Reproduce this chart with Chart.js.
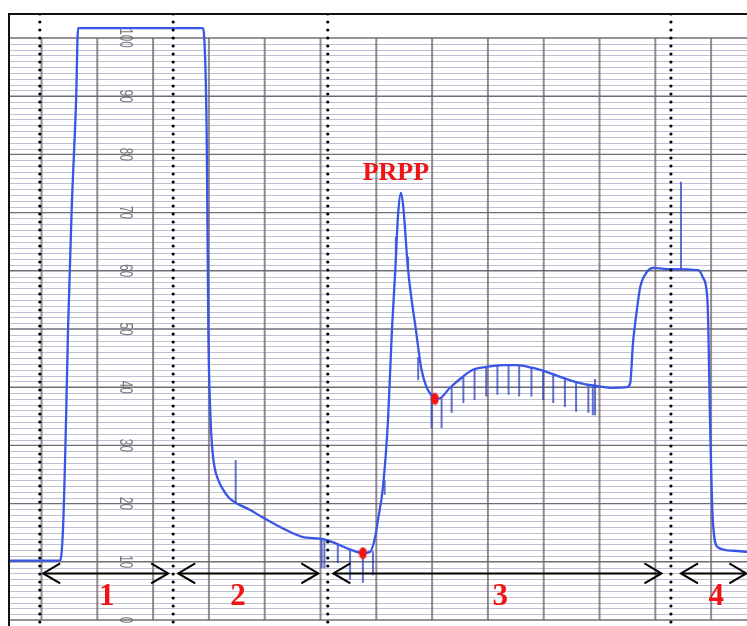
<!DOCTYPE html>
<html>
<head>
<meta charset="utf-8">
<script src="https://cdn.jsdelivr.net/npm/chart.js@4/dist/chart.umd.min.js"></script>
<style>
  html, body { margin: 0; padding: 0; background: #ffffff; }
  canvas { display: block; }
</style>
</head>
<body>
<canvas id="c" width="747" height="626"></canvas>
<script>
// Recorder trace: time in chart divisions, signal in % of full scale
const traceT = [-0.6, 0.33, 0.385, 0.44, 0.475, 0.54, 0.62, 0.655, 2.89, 2.91, 2.96, 2.99, 3.03, 3.06, 3.10, 3.17, 3.26, 3.36, 3.47, 3.74, 3.95, 4.31, 4.67, 5.05, 5.26, 5.56, 5.76, 5.89, 5.98, 6.03, 6.12, 6.21, 6.28, 6.34, 6.39, 6.44, 6.48, 6.57, 6.71, 6.81, 6.90, 6.96, 7.05, 7.14, 7.32, 7.55, 7.73, 7.98, 8.27, 8.52, 8.81, 9.06, 9.35, 9.65, 9.955, 10.19, 10.49, 10.55, 10.60, 10.67, 10.73, 10.85, 10.96, 11.21, 11.77, 11.85, 11.93, 11.95, 11.98, 12.03, 12.12, 12.39, 12.66];
const traceV = [10.2, 10.2, 15.5, 34.4, 49.8, 70.4, 89.3, 101.7, 101.7, 100.9, 83.7, 49.8, 34.4, 29.5, 26.3, 24.0, 22.3, 21.0, 20.2, 18.9, 17.7, 15.8, 14.3, 13.9, 13.2, 12.0, 11.5, 11.7, 14.3, 17.2, 22.9, 34.4, 49.8, 60.1, 69.6, 73.4, 71.3, 60.1, 49.8, 43.0, 40.0, 39.0, 38.0, 38.1, 39.9, 41.8, 43.0, 43.5, 43.8, 43.8, 43.3, 42.6, 41.6, 40.7, 40.2, 39.9, 40.0, 40.7, 47.6, 53.3, 57.2, 59.8, 60.5, 60.3, 60.1, 58.9, 55.5, 50.3, 34.4, 17.2, 12.5, 11.9, 11.7];

// Fraction-collector event marks (vertical strokes)
const markT      = [3.48, 5.02, 5.07, 5.31, 5.53, 5.76, 5.94, 6.15, 6.35, 6.57, 6.75, 6.99, 7.17, 7.35, 7.56, 7.76, 7.97, 8.17, 8.37, 8.56, 8.78, 8.99, 9.17, 9.38, 9.58, 9.80, 9.88, 9.92, 11.46];
const markTop    = [27.5, 13.9, 13.9, 13.1, 12.2, 11.5, 11.8, 24.0, 65.8, 62.4, 45.2, 39.0, 38.1, 39.9, 41.8, 43.0, 43.5, 43.8, 43.8, 43.8, 43.3, 42.8, 42.4, 41.5, 40.9, 40.4, 40.3, 41.4, 75.3];
const markBottom = [20.2, 8.9, 8.9, 9.8, 6.9, 6.4, 7.7, 21.5, 63.1, 60.7, 41.2, 33.0, 33.0, 35.6, 37.3, 37.8, 38.4, 38.7, 38.7, 38.4, 38.4, 37.8, 37.3, 36.6, 35.8, 35.6, 35.2, 35.2, 60.3];

// Highlighted points on the trace
const dotT = [5.76, 7.05];
const dotV = [11.5, 38.0];

// Fraction boundaries and ranges
const dividerT = [-0.03, 2.36, 5.13, 11.28];
const rangeStart = [0.03, 2.45, 5.23, 11.46];
const rangeEnd = [2.27, 4.96, 11.11, 12.63];
const rangeLabels = ['1', '2', '3', '4'];
const rangeLabelT = [1.17, 3.52, 8.22, 12.09];
const rangeArrowV = 8.0;
const rangeLabelV = 4.3;

// Peak annotation
const peakLabel = 'PRPP';
const peakLabelT = 6.35;
const peakLabelV = 76.9;

// Chart paper: printed scale and ruling
const paperScale = [0, 10, 20, 30, 40, 50, 60, 70, 80, 90, 100];
const paperScaleT = 1.5;
const paperColumnsT = [0, 1, 2, 3, 4, 5, 6, 7, 8, 9, 10, 11, 12];

const X_MIN = -0.5824, X_MAX = 12.643;
const Y_MIN = -1.03, Y_MAX = 104.12;

function pts(xs, ys) { return xs.map((x, i) => ({ x: x, y: ys[i] })); }

const markData = [];
markT.forEach((t, i) => {
  markData.push({ x: t, y: markTop[i] }, { x: t, y: markBottom[i] }, { x: t, y: null });
});

const dividerData = [];
dividerT.forEach(t => {
  dividerData.push({ x: t, y: Y_MAX }, { x: t, y: Y_MIN }, { x: t, y: null });
});

// Red elliptical marker
const dotImg = document.createElement('canvas');
dotImg.width = 9; dotImg.height = 13;
(function () {
  const g = dotImg.getContext('2d');
  g.fillStyle = '#f01414';
  g.beginPath();
  g.ellipse(4.5, 6.5, 3.9, 6.0, 0, 0, Math.PI * 2);
  g.fill();
})();

const paperPlugin = {
  id: 'paper',
  beforeDatasetsDraw(chart) {
    const ctx = chart.ctx, xs = chart.scales.x, ys = chart.scales.y, a = chart.chartArea;
    ctx.save();
    const y0 = ys.getPixelForValue(0), y100 = ys.getPixelForValue(100);
    // minor horizontal rulings
    for (let v = 0; v <= 100; v++) {
      if (v % 10 === 0) continue;
      const y = Math.round(ys.getPixelForValue(v)) + 0.5;
      ctx.strokeStyle = 'rgba(170,170,200,0.75)';
      ctx.lineWidth = 1;
      ctx.beginPath(); ctx.moveTo(a.left, y); ctx.lineTo(a.right, y); ctx.stroke();
    }
    // major horizontal rulings
    paperScale.forEach(v => {
      const y = ys.getPixelForValue(v);
      ctx.strokeStyle = 'rgba(85,85,95,0.85)';
      ctx.lineWidth = 1.4;
      ctx.beginPath(); ctx.moveTo(a.left, y); ctx.lineTo(a.right, y); ctx.stroke();
    });
    // vertical rulings
    paperColumnsT.forEach(t => {
      const x = xs.getPixelForValue(t);
      ctx.strokeStyle = 'rgba(110,100,100,0.75)';
      ctx.lineWidth = 2;
      ctx.beginPath(); ctx.moveTo(x, y100); ctx.lineTo(x, y0); ctx.stroke();
    });
    // printed scale numbers, rotated along the paper
    ctx.fillStyle = 'rgba(105,105,105,0.9)';
    ctx.font = '19px "Liberation Sans", Arial, sans-serif';
    ctx.textAlign = 'center';
    ctx.textBaseline = 'middle';
    paperScale.forEach(v => {
      ctx.save();
      ctx.translate(xs.getPixelForValue(paperScaleT), ys.getPixelForValue(v));
      ctx.rotate(Math.PI / 2);
      ctx.scale(0.62, 0.95);
      ctx.fillText(String(v), 0, 0);
      ctx.restore();
    });
    ctx.restore();
  },
  afterDatasetsDraw(chart) {
    const ctx = chart.ctx, xs = chart.scales.x, ys = chart.scales.y, a = chart.chartArea;
    ctx.save();
    // frame: top and left edges
    ctx.strokeStyle = '#111';
    ctx.lineWidth = 2;
    ctx.beginPath();
    ctx.moveTo(a.left, a.bottom); ctx.lineTo(a.left, a.top); ctx.lineTo(a.right, a.top);
    ctx.stroke();

    // double-headed range arrows
    ctx.strokeStyle = '#000';
    ctx.lineWidth = 2;
    ctx.lineJoin = 'miter';
    const ya = ys.getPixelForValue(rangeArrowV);
    rangeStart.forEach((t0, i) => {
      const x0 = xs.getPixelForValue(t0), x1 = xs.getPixelForValue(rangeEnd[i]);
      ctx.beginPath(); ctx.moveTo(x0, ya); ctx.lineTo(x1, ya); ctx.stroke();
      ctx.beginPath();
      ctx.moveTo(x0 + 17, ya - 10); ctx.lineTo(x0, ya); ctx.lineTo(x0 + 17, ya + 10);
      ctx.stroke();
      ctx.beginPath();
      ctx.moveTo(x1 - 17, ya - 10); ctx.lineTo(x1, ya); ctx.lineTo(x1 - 17, ya + 10);
      ctx.stroke();
    });

    // range numbers
    ctx.fillStyle = '#f01414';
    ctx.textAlign = 'center';
    ctx.textBaseline = 'middle';
    ctx.font = 'bold 31px "Liberation Serif", "Times New Roman", serif';
    rangeLabels.forEach((s, i) => {
      ctx.fillText(s, xs.getPixelForValue(rangeLabelT[i]), ys.getPixelForValue(rangeLabelV) + 2);
    });

    // peak name
    ctx.font = 'bold 26px "Liberation Serif", "Times New Roman", serif';
    ctx.fillText(peakLabel, xs.getPixelForValue(peakLabelT), ys.getPixelForValue(peakLabelV) + 1);
    ctx.restore();
  }
};

new Chart(document.getElementById('c'), {
  data: {
    datasets: [
      {
        type: 'scatter',
        data: pts(dotT, dotV),
        pointStyle: dotImg,
        pointRadius: 6,
        showLine: false
      },
      {
        type: 'line',
        data: dividerData,
        borderColor: '#000',
        borderWidth: 3.2,
        borderDash: [0, 8],
        borderCapStyle: 'round',
        pointRadius: 0,
        spanGaps: false,
        tension: 0
      },
      {
        type: 'line',
        data: pts(traceT, traceV),
        borderColor: 'rgb(58,86,230)',
        borderWidth: 2.3,
        pointRadius: 0,
        cubicInterpolationMode: 'monotone',
        borderJoinStyle: 'round'
      },
      {
        type: 'line',
        data: markData,
        borderColor: 'rgba(45,65,185,0.75)',
        borderWidth: 2,
        pointRadius: 0,
        spanGaps: false,
        tension: 0
      }
    ]
  },
  options: {
    responsive: false,
    animation: false,
    events: [],
    layout: { autoPadding: false, padding: { left: 9, top: 14, right: 0, bottom: 0 } },
    plugins: { legend: { display: false }, tooltip: { enabled: false } },
    scales: {
      x: { type: 'linear', min: X_MIN, max: X_MAX, display: false },
      y: { type: 'linear', min: Y_MIN, max: Y_MAX, display: false }
    }
  },
  plugins: [paperPlugin]
});
</script>
</body>
</html>
